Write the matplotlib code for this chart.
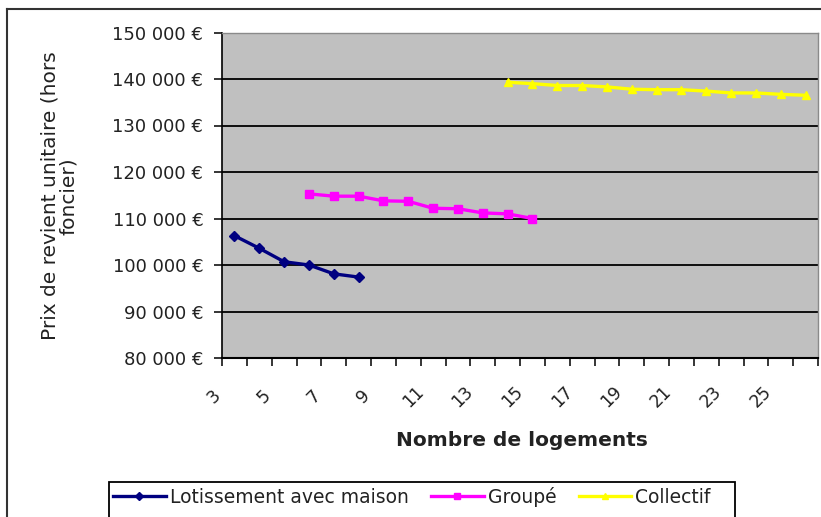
import matplotlib
matplotlib.use('Agg')
import matplotlib.pyplot as plt
from matplotlib.lines import Line2D
from matplotlib.patches import Rectangle
from matplotlib.transforms import ScaledTranslation, blended_transform_factory

# ---- data ----
categories = list(range(3, 27))
xtick_label_values = list(range(3, 26, 2))
xtick_labels = [str(v) for v in xtick_label_values]
ytick_values = [80000, 90000, 100000, 110000, 120000, 130000, 140000, 150000]
ytick_labels = [f"{v:,}".replace(",", " ") + " €" for v in ytick_values]

lot_x = [3, 4, 5, 6, 7, 8]
lot_y = [106300, 103600, 100700, 100000, 98100, 97400]
grp_x = [6, 7, 8, 9, 10, 11, 12, 13, 14, 15]
grp_y = [115300, 114800, 114800, 113800, 113700, 112200, 112100, 111200, 111000, 110000]
col_x = [14, 15, 16, 17, 18, 19, 20, 21, 22, 23, 24, 25, 26]
col_y = [139300, 139000, 138600, 138600, 138300, 137800, 137700, 137700, 137400, 137000, 137000, 136700, 136500]

series_names = ["Lotissement avec maison", "Groupé", "Collectif"]

plt.rcParams['font.family'] = ['DejaVu Sans']

W, H = 821, 517
fig = plt.figure(figsize=(W / 100, H / 100), dpi=100)
fig.patch.set_facecolor('white')


def fx(px):
    return px / W


def fy(py):
    return 1 - py / H


ax = fig.add_axes([fx(222), fy(358), fx(818) - fx(222), fy(32.5) - fy(358)])
ax.set_facecolor('#C0C0C0')

ax.plot(lot_x, lot_y, color='#000080', lw=2.4, marker='D', ms=5.5, zorder=3, label=series_names[0])
ax.plot(grp_x, grp_y, color='#FF00FF', lw=2.4, marker='s', ms=6, zorder=3, label=series_names[1])
ax.plot(col_x, col_y, color='#FFFF00', lw=2.4, marker='^', ms=6, zorder=3, label=series_names[2])

ax.set_xlim(categories[0] - 0.5, categories[-1] + 0.5)
ax.set_ylim(ytick_values[0], ytick_values[-1])

# category boundaries as ticks
bounds = [c - 0.5 for c in categories] + [categories[-1] + 0.5]
ax.set_xticks(bounds)
ax.set_xticklabels([])
ax.tick_params(axis='x', direction='out', length=5.5, width=1.1, color='black')

off = ScaledTranslation(-0.2, 0, fig.dpi_scale_trans)
trans = blended_transform_factory(ax.transData, ax.transAxes) + off
for v, lab in zip(xtick_label_values, xtick_labels):
    ax.text(v, -39 / (358 - 32.5), lab, transform=trans, rotation=45,
            ha='center', va='center', fontsize=12.5, color='#222222')

ax.set_yticks(ytick_values)
ax.set_yticklabels(ytick_labels, fontsize=13, color='#222222')
ax.tick_params(axis='y', direction='out', length=5.5, width=1.1, color='black', pad=8)

ax.yaxis.grid(True, color='black', lw=1.3)
ax.set_axisbelow(True)

for s in ['top', 'right']:
    ax.spines[s].set_color('#8a8a8a')
    ax.spines[s].set_linewidth(1.0)
ax.spines['left'].set_color('black')
ax.spines['left'].set_linewidth(1.2)
ax.spines['bottom'].set_color('black')
ax.spines['bottom'].set_linewidth(1.5)

fig.text(fx(522), fy(440), "Nombre de logements", ha='center', va='center',
         fontsize=14.5, fontweight='bold', color='#222222')
fig.text(fx(59), fy(196), "Prix de revient unitaire (hors\nfoncier)", ha='center', va='center',
         rotation=90, fontsize=14.5, color='#222222', linespacing=1.0, multialignment='center')

# legend
handles, labels = ax.get_legend_handles_labels()
fig.legend(handles, labels, loc='center left', bbox_to_anchor=(fx(113), fy(497)), ncol=3,
           frameon=False, fontsize=13.5, handlelength=2.8, handletextpad=0.22,
           columnspacing=1.2, borderpad=0, borderaxespad=0, labelcolor='#222222',
           markerscale=0.8)
fig.add_artist(Rectangle((fx(109), fy(540)), fx(735) - fx(109), fy(482) - fy(540),
                         transform=fig.transFigure, fill=False, ec='black', lw=1.3))

# outer chart frame
fig.add_artist(Line2D([fx(7), fx(7)], [fy(530), fy(8.5)], transform=fig.transFigure,
                      color='#333333', lw=1.5))
fig.add_artist(Line2D([fx(7), fx(830)], [fy(8.5), fy(8.5)], transform=fig.transFigure,
                      color='#333333', lw=1.5))

fig.savefig('out.png', dpi=100)
